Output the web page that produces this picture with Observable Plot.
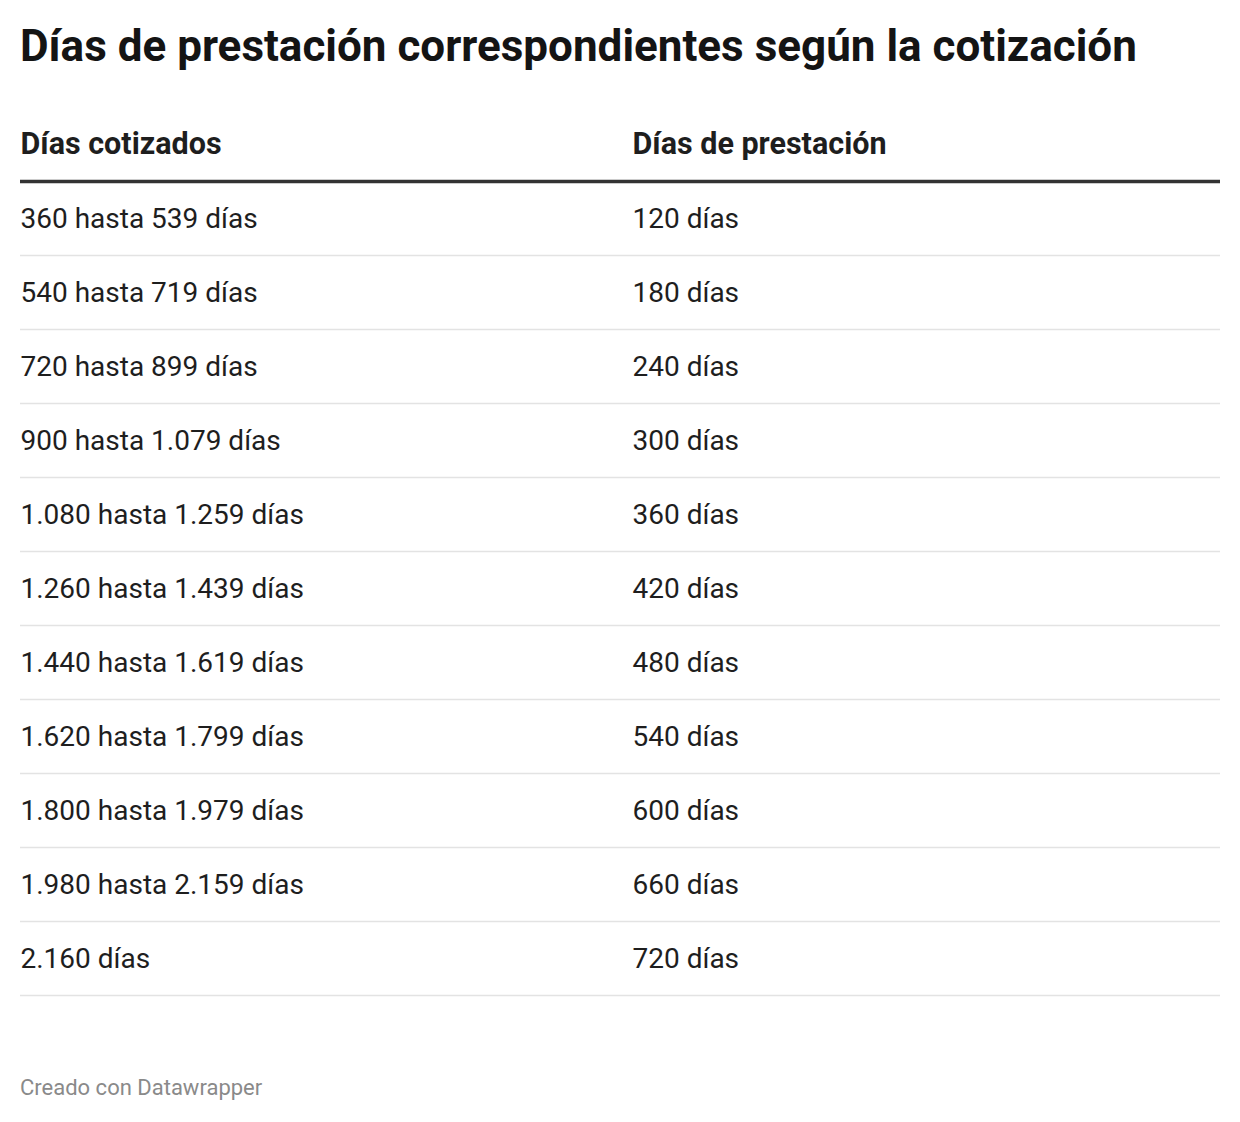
<!DOCTYPE html>
<html>
<head>
<meta charset="utf-8">
<script src="https://cdn.jsdelivr.net/npm/d3@7"></script>
<script src="https://cdn.jsdelivr.net/npm/@observablehq/plot@0.6"></script>
<style>
  html, body { margin: 0; padding: 0; background: #fff; }
  body { width: 1240px; height: 1122px; position: relative; font-family: Roboto, "Noto Sans", sans-serif; }
  #title { position: absolute; left: 20px; top: 24px; margin: 0; font-size: 44px; font-weight: 700; color: #141414; line-height: 44px; white-space: nowrap; }
  #chart { position: absolute; left: 0; top: 100px; }
  #caption { position: absolute; left: 20px; top: 1077px; font-size: 22px; line-height: 22px; color: #8a8a8a; white-space: nowrap; }
</style>
</head>
<body>
<h1 id="title">Días de prestación correspondientes según la cotización</h1>
<div id="chart"></div>
<div id="caption">Creado con Datawrapper</div>
<script>
const columns = ["Días cotizados", "Días de prestación"];
const cotizadosDesde = [360, 540, 720, 900, 1080, 1260, 1440, 1620, 1800, 1980, 2160];
const cotizadosHasta = [539, 719, 899, 1079, 1259, 1439, 1619, 1799, 1979, 2159, null];
const diasPrestacion = [120, 180, 240, 300, 360, 420, 480, 540, 600, 660, 720];

const es = d3.formatLocale({decimal: ",", thousands: ".", grouping: [3], currency: ["", " €"]});
const fmt = es.format(",d");

const cells = [];
columns.forEach((c) => cells.push({row: 0, col: c, label: c, header: true}));
cotizadosDesde.forEach((d, i) => {
  const h = cotizadosHasta[i];
  cells.push({row: i + 1, col: columns[0], label: h == null ? `${fmt(d)} días` : `${fmt(d)} hasta ${fmt(h)} días`, header: false});
  cells.push({row: i + 1, col: columns[1], label: `${fmt(diasPrestacion[i])} días`, header: false});
});
const rows = d3.range(cotizadosDesde.length + 1);

const chart = Plot.plot({
  width: 1240,
  height: 920,
  marginLeft: 20,
  marginRight: 20,
  marginTop: 0,
  marginBottom: 0,
  style: {fontFamily: "Roboto, sans-serif", background: "transparent"},
  x: {type: "point", domain: columns, range: [20, 632], padding: 0, axis: null},
  y: {type: "point", domain: rows, range: [43, 858], padding: 0, axis: null},
  marks: [
    Plot.ruleY(rows.slice(1), {y: (d) => d, dy: 37, stroke: "#e3e3e3", strokeWidth: 1.5}),
    Plot.ruleY([0], {y: (d) => d, dy: 37, stroke: "#333333", strokeWidth: 3.5}),
    Plot.text(cells.filter((d) => d.header), {x: "col", y: "row", text: "label", textAnchor: "start", fontSize: 30.5, fontWeight: 700, fill: "#1e1e1e"}),
    Plot.text(cells.filter((d) => !d.header), {x: "col", y: "row", text: "label", textAnchor: "start", fontSize: 28, fill: "#1e1e1e", dy: 1})
  ]
});
document.getElementById("chart").appendChild(chart);
</script>
</body>
</html>
